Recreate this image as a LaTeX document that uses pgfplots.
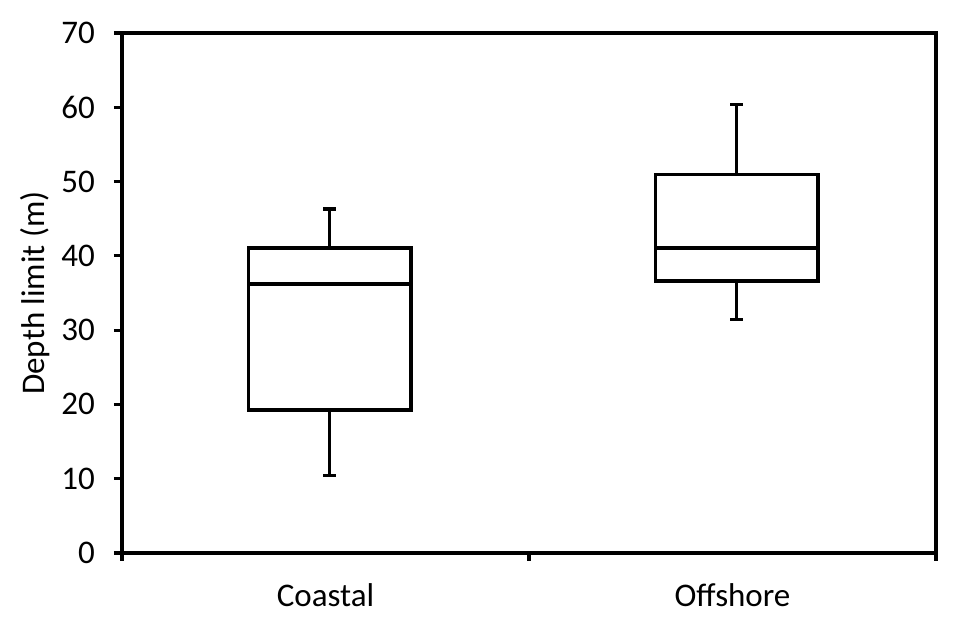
\documentclass[border=0pt]{standalone}
\usepackage{fontspec}
\setmainfont{Carlito}
\usepackage{pgfplots}
\pgfplotsset{compat=1.18}
\usepgfplotslibrary{statistics}

\begin{document}
\begin{tikzpicture}
\begin{axis}[
  name=ax,
  scale only axis,
  width=407pt, height=260pt,
  xmin=0, xmax=2, ymin=0, ymax=70,
  ytick={0,10,...,70},
  xtick={0,1,2}, xticklabels={},
  extra x ticks={0.5,1.5},
  extra x tick labels={Coastal,Offshore},
  extra x tick style={major tick length=0pt, xticklabel style={yshift=-12pt}},
  tick align=outside,
  xtick pos=bottom, ytick pos=left,
  major tick length=4pt,
  axis line style={line width=1.6pt},
  every tick/.style={line width=1.6pt, black},
  ticklabel style={font=\fontsize{16.5}{19}\selectfont},
  yticklabel style={xshift=-6pt},
  /pgf/number format/assume math mode=true,
  ylabel={Depth limit (m)},
  ylabel style={font=\fontsize{16.5}{19}\selectfont, yshift=-1pt},
  boxplot/draw direction=y,
]
\addplot+[black, solid, mark=none, line width=1.6pt,
  boxplot prepared={draw position=0.51,
  lower whisker=10.4, lower quartile=19.25, median=36.2,
  upper quartile=41.05, upper whisker=46.3,
  box extend=0.4, whisker extend=0.03}] coordinates {};
\addplot+[black, solid, mark=none, line width=1.6pt,
  boxplot prepared={draw position=1.51,
  lower whisker=31.4, lower quartile=36.6, median=41.05,
  upper quartile=51.0, upper whisker=60.4,
  box extend=0.4, whisker extend=0.03}] coordinates {};
\end{axis}
\pgfresetboundingbox
\useasboundingbox ([shift={(-61pt,-35.5pt)}]ax.south west) rectangle ([shift={(9pt,16.5pt)}]ax.north east);
\end{tikzpicture}
\end{document}
